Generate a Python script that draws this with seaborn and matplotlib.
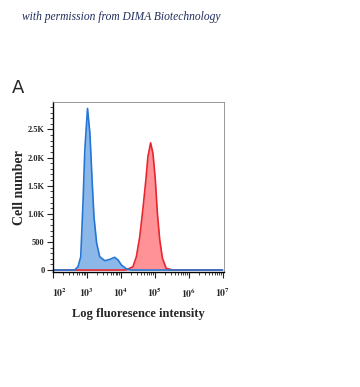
import numpy as np
import pandas as pd
import seaborn as sns
import matplotlib.pyplot as plt
import matplotlib.transforms as mtransforms
from matplotlib.ticker import FixedLocator, MultipleLocator, LogLocator, NullFormatter

# Histogram outlines (log10 intensity, cell count)
blue_log = [2.0, 2.60, 2.65, 2.74, 2.82, 2.89, 2.94, 3.02, 3.09, 3.16, 3.21, 3.29,
            3.38, 3.53, 3.68, 3.82, 3.92, 4.02, 4.17, 4.31, 7.0]
blue_count = [0, 0, 5, 60, 235, 1244, 2132, 2873, 2430, 1540, 947, 474,
              237, 166, 190, 226, 178, 89, 20, 0, 0]

red_log = [2.0, 4.10, 4.17, 4.36, 4.46, 4.56, 4.66, 4.74, 4.80, 4.88, 4.95,
           5.02, 5.08, 5.15, 5.23, 5.34, 5.54, 7.0]
red_count = [0, 0, 5, 59, 237, 592, 1125, 1600, 2013, 2262, 2073,
             1600, 1007, 533, 207, 30, 0, 0]

ytick_vals = [0, 500, 1000, 1500, 2000, 2500]
ytick_labels = ['0', '500', '1.0K', '1.5K', '2.0K', '2.5K']
xtick_exp = [2, 3, 4, 5, 6, 7]

blue_df = pd.DataFrame({'intensity': 10 ** np.array(blue_log), 'count': blue_count})
red_df = pd.DataFrame({'intensity': 10 ** np.array(red_log), 'count': red_count})

sns.set_style('ticks')
plt.rcParams['font.family'] = ['Liberation Serif', 'DejaVu Serif']
plt.rcParams['mathtext.fontset'] = 'stix'

fig = plt.figure(figsize=(3.6, 3.87), dpi=100)
ax = fig.add_axes([0.147, 0.297, 0.475, 0.439])

# filled histograms
ax.fill_between(red_df['intensity'], red_df['count'], color='#ff9297', lw=0)
sns.lineplot(data=red_df, x='intensity', y='count', color='#e8262e', lw=1.2, ax=ax)
ax.fill_between(blue_df['intensity'], blue_df['count'], color='#6fa6e4', alpha=0.8, lw=0)
sns.lineplot(data=blue_df, x='intensity', y='count', color='#2476d6', lw=1.2, ax=ax)

ax.set_xscale('log')
ax.set_xlim(100, 1.1e7)
ax.set_ylim(-36, 2985)

ax.xaxis.set_major_locator(FixedLocator([10 ** e for e in xtick_exp]))
ax.set_xticklabels([r'$\mathbf{10^{%d}}$' % e for e in xtick_exp], fontsize=7)
ax.xaxis.set_minor_locator(LogLocator(base=10, subs=np.arange(2, 10), numticks=20))
ax.xaxis.set_minor_formatter(NullFormatter())

ax.yaxis.set_major_locator(FixedLocator(ytick_vals))
ax.set_yticklabels(ytick_labels, fontsize=6, fontweight='bold')
ax.yaxis.set_minor_locator(MultipleLocator(100))

ax.tick_params(axis='both', which='major', length=4, width=0.8, direction='out')
ax.tick_params(axis='x', which='major', pad=6)
ax.tick_params(axis='y', which='major', pad=2)
ax.tick_params(axis='both', which='minor', length=2, width=0.6, direction='out')
ax.tick_params(top=False, right=False, which='both')

# first x label sits a little right of its tick, as in the source
shift = mtransforms.ScaledTranslation(7 / 100, 0, fig.dpi_scale_trans)
first = ax.get_xticklabels()[0]
first.set_transform(first.get_transform() + shift)

for side in ['left', 'bottom']:
    ax.spines[side].set_color('black')
    ax.spines[side].set_linewidth(1.0)
for side in ['top', 'right']:
    ax.spines[side].set_visible(True)
    ax.spines[side].set_color('#888888')
    ax.spines[side].set_linewidth(0.6)

ax.set_xlabel('Log fluoresence intensity', fontsize=9, fontweight='bold', labelpad=6)
ax.set_ylabel('Cell number', fontsize=10, fontweight='bold', labelpad=1)

fig.text(0.061, 0.955, 'with permission from DIMA Biotechnology',
         fontsize=8.3, style='italic', color='#1f2d5c', ha='left', va='center')
fig.text(0.033, 0.772, 'A', fontsize=13, family='DejaVu Sans', ha='left', va='center')

fig.savefig('out.png', dpi=100)
